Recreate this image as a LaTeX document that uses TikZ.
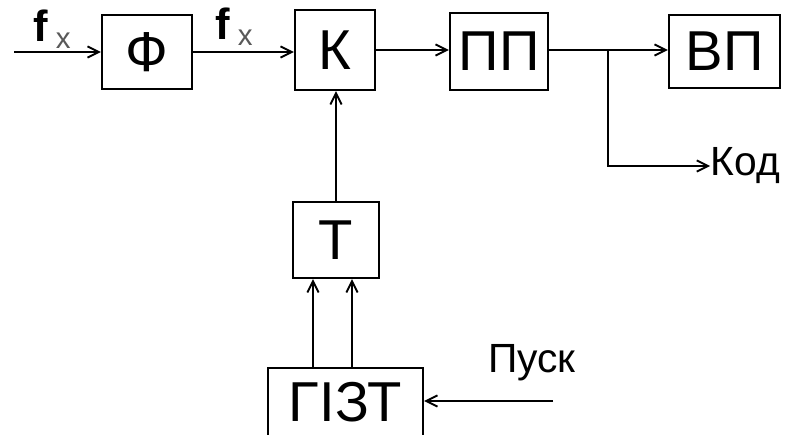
\documentclass[tikz,border=0pt]{standalone}
\usepackage{fontspec}
\setmainfont{Liberation Sans}
\usetikzlibrary{arrows.meta}

\newcommand{\fx}{\textbf{f}\,\raisebox{-0.3ex}{\textcolor{black!65}{\fontsize{21}{21}\selectfont x}}}

\begin{document}
\begin{tikzpicture}[x=0.025cm, y=-0.025cm, line width=1.3pt,
    box/.style={draw, line width=1.7pt, inner sep=0pt, font=\fontsize{40}{40}\selectfont},
    sig/.style={-{Straight Barb[length=8pt,width=8pt]}},
    lbl/.style={inner sep=0pt, font=\fontsize{29}{29}\selectfont}]
  \useasboundingbox (0,0) rectangle (789,434);
  % blocks
  \node[box, minimum width=2.25cm, minimum height=1.85cm] (phi) at (147,52) {Ф};
  \node[box, minimum width=2cm, minimum height=2cm] (k) at (335,50) {К};
  \node[box, minimum width=2.45cm, minimum height=1.925cm] (pp) at (499,51.5) {ПП};
  \node[box, minimum width=2.775cm, minimum height=1.825cm] (vp) at (724.5,51.5) {ВП};
  \node[box, minimum width=2.15cm, minimum height=1.9cm] (t) at (336,240) {Т};
  \node[box, minimum width=3.875cm, minimum height=1.7cm] (gizt) at (345.5,402) {ГІЗТ};
  % free ends
  \coordinate (in) at (14,52);
  \coordinate (br) at (608,50);
  \coordinate (start) at (553,401);
  % labels
  \node[lbl, anchor=base west, font=\fontsize{31}{31}\selectfont] (fx1) at (33,42) {\fx};
  \node[lbl, anchor=base west, font=\fontsize{31}{31}\selectfont] (fx2) at (215,39) {\fx};
  \node[lbl, anchor=west] (kod) at (710,166) {Код};
  \node[lbl, anchor=base] (pusk) at (532,372) {Пуск};
  % connectors
  \draw[sig] (in) -- (phi.west |- in);
  \draw[sig] (phi.east) -- (k.west |- phi.east);
  \draw[sig] (k.east) -- (pp.west |- k.east);
  \draw (pp.east |- br) -- (br);
  \draw[sig] (br) -- (vp.west |- br);
  \draw[sig] (br) |- (kod.west);
  \draw[sig] (t.north) -- (k.south -| t.north);
  \draw[sig] ([xshift=-0.8125cm]gizt.north) -- ([xshift=-0.8125cm]gizt.north |- t.south);
  \draw[sig] ([xshift=0.1625cm]gizt.north) -- ([xshift=0.1625cm]gizt.north |- t.south);
  \draw[sig] (start) -- (gizt.east |- start);
\end{tikzpicture}
\end{document}
